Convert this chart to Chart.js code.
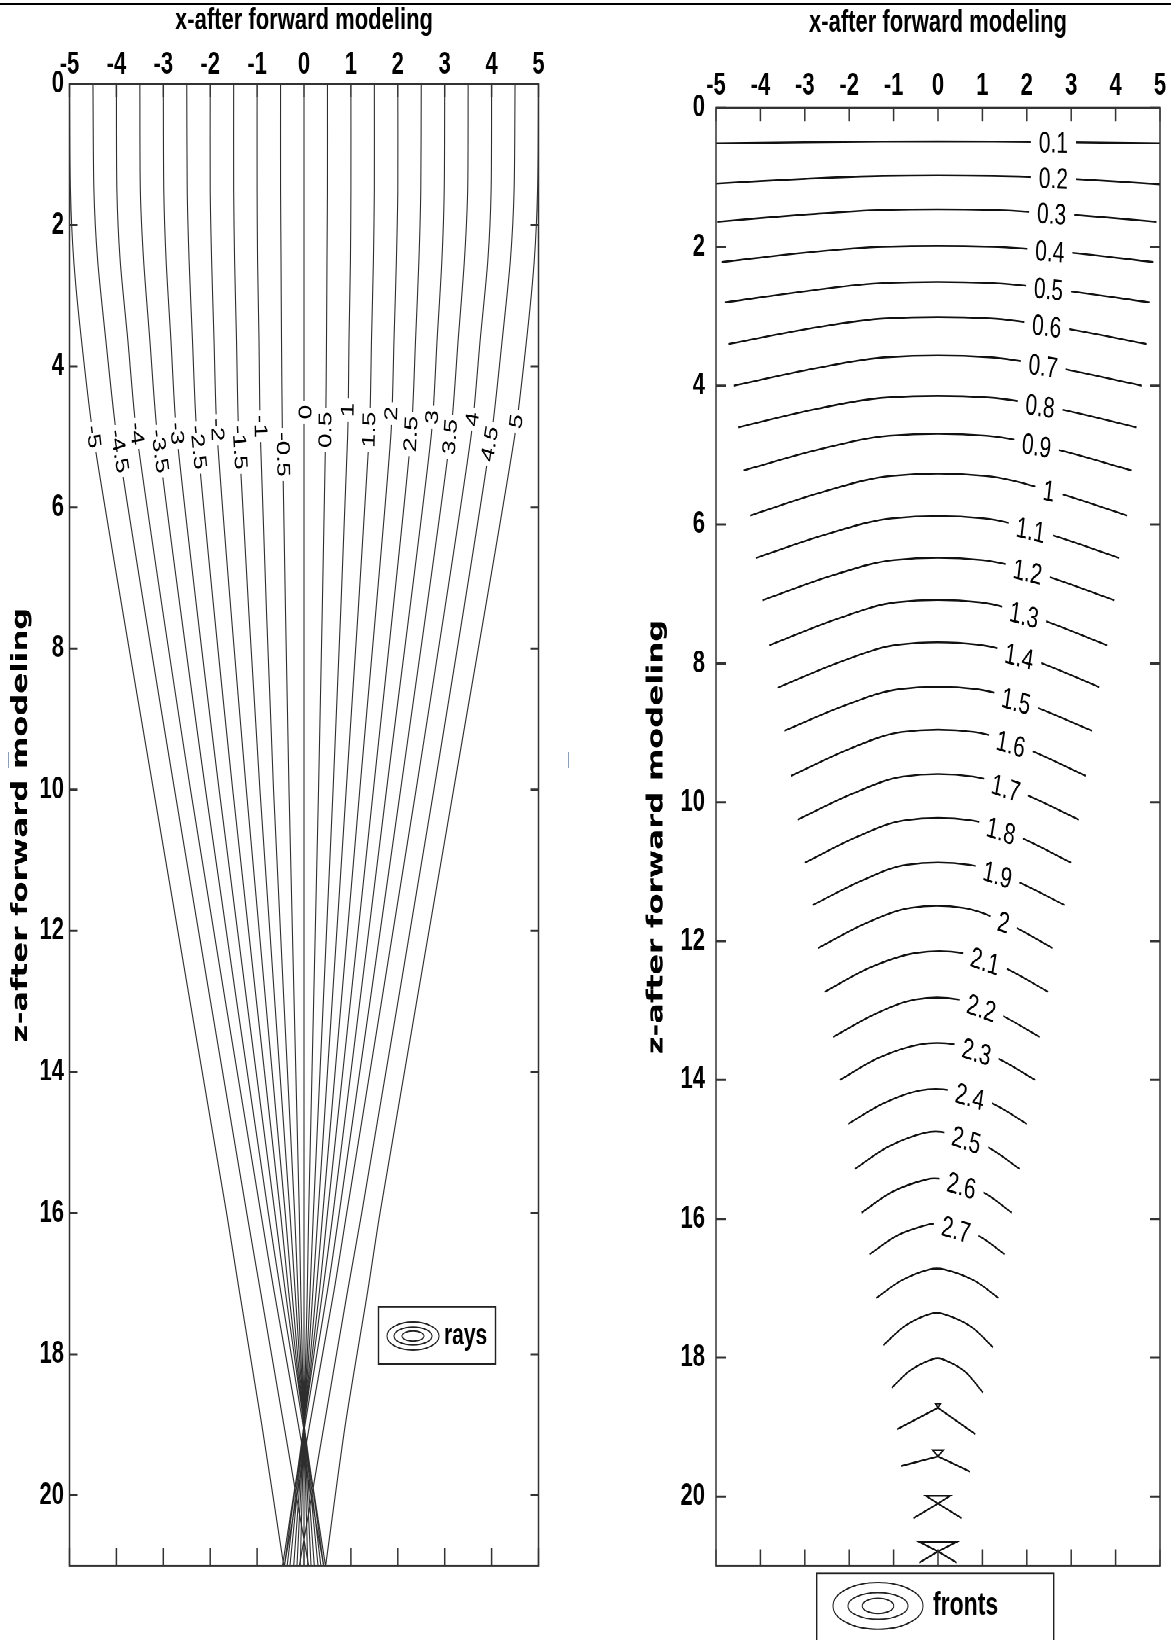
<!DOCTYPE html>
<html>
<head>
<meta charset="utf-8">
<script src="https://cdn.jsdelivr.net/npm/chart.js@4.4.1/dist/chart.umd.min.js"></script>
<style>
  html, body { margin: 0; padding: 0; background: #fff; }
  body { width: 1171px; height: 1640px; overflow: hidden; position: relative; }
  /* the original figure is a square plot stretched to 1640 px tall */
  #stretch { position: absolute; left: 0; top: 0; width: 1171px; height: 1171px;
             transform: scale(1, 1.40051); transform-origin: 0 0; }
  #wrapL { position: absolute; left: 0; top: 0; width: 590px; height: 1171px; }
  #wrapR { position: absolute; left: 590px; top: 0; width: 581px; height: 1171px; }
  #topRule { position: absolute; left: 0; top: 3px; width: 1171px; height: 2px; background: #000; }
  .speck { position: absolute; width: 1px; height: 16px; top: 752px; background: #8aa0b8; }
</style>
</head>
<body>
<div id="topRule"></div>
<div class="speck" style="left:8px"></div>
<div class="speck" style="left:568px"></div>
<div id="stretch">
  <div id="wrapL"><canvas id="raysChart" width="590" height="1171"></canvas></div>
  <div id="wrapR"><canvas id="frontsChart" width="581" height="1171"></canvas></div>
</div>
<script>
// ---- axes ----
var xTicks = [-5, -4, -3, -2, -1, 0, 1, 2, 3, 4, 5];
var zTicks = [0, 2, 4, 6, 8, 10, 12, 14, 16, 18, 20];

// ---- rays (left panel): x of each ray at a few depths ----
var rayStart = [-5, -4.5, -4, -3.5, -3, -2.5, -2, -1.5, -1, -0.5, 0, 0.5, 1, 1.5, 2, 2.5, 3, 3.5, 4, 4.5, 5];
var rayDepth = [0, 1.5, 2.5, 3.6, 5, 10, 16, 17.1, 19, 21];
var rayX_z0   = [-5, -4.5, -4, -3.5, -3, -2.5, -2, -1.5, -1, -0.5, 0, 0.5, 1, 1.5, 2, 2.5, 3, 3.5, 4, 4.5, 5];
var rayX_z1_5 = [-4.98, -4.48, -3.99, -3.49, -2.99, -2.49, -2, -1.5, -1, -0.5, 0, 0.5, 1, 1.5, 2, 2.49, 2.99, 3.49, 3.99, 4.48, 4.98];
var rayX_z2_5 = [-4.91, -4.4, -3.92, -3.42, -2.94, -2.45, -1.97, -1.48, -0.99, -0.49, 0, 0.49, 0.99, 1.48, 1.97, 2.45, 2.94, 3.42, 3.92, 4.4, 4.91];
var rayX_z3_6 = [-4.75, -4.23, -3.76, -3.29, -2.84, -2.38, -1.92, -1.44, -0.96, -0.48, 0, 0.48, 0.96, 1.44, 1.92, 2.38, 2.84, 3.29, 3.76, 4.23, 4.75];
var rayX_z5   = [-4.49, -3.99, -3.56, -3.12, -2.71, -2.28, -1.85, -1.39, -0.93, -0.46, 0, 0.46, 0.93, 1.39, 1.85, 2.28, 2.71, 3.12, 3.56, 3.99, 4.49];
var rayX_z10  = [-3.21, -2.76, -2.42, -2.1, -1.81, -1.52, -1.23, -0.94, -0.65, -0.32, 0, 0.31, 0.62, 0.9, 1.19, 1.48, 1.76, 2.06, 2.39, 2.77, 3.19];
var rayX_z16  = [-1.65, -1.22, -0.92, -0.76, -0.62, -0.5, -0.4, -0.3, -0.2, -0.1, 0, 0.1, 0.2, 0.3, 0.4, 0.5, 0.62, 0.75, 0.91, 1.23, 1.62];
var rayX_z17  = [-1.38, -0.93, -0.64, -0.5, -0.4, -0.33, -0.26, -0.19, -0.13, -0.07, 0, 0.07, 0.13, 0.19, 0.26, 0.33, 0.4, 0.5, 0.64, 0.93, 1.36];
var rayX_z19  = [-0.9, -0.43, -0.12, -0.02, 0, 0, 0, 0, 0, 0, 0, 0, 0, 0, 0, 0, 0, 0.02, 0.12, 0.43, 0.88];
var rayX_z21  = [-0.43, 0.1, 0.42, 0.46, 0.42, 0.36, 0.3, 0.22, 0.15, 0.08, 0, -0.08, -0.15, -0.22, -0.3, -0.36, -0.42, -0.46, -0.42, -0.1, 0.46];
var rayLabelZ = [5.0, 5.2, 4.95, 5.2, 4.95, 5.15, 4.9, 5.15, 4.85, 5.25, 4.65, 4.9, 4.62, 4.9, 4.67, 4.96, 4.72, 5.0, 4.75, 5.1, 4.78];
var rayLevels = [rayX_z0, rayX_z1_5, rayX_z2_5, rayX_z3_6, rayX_z5, rayX_z10, rayX_z16, rayX_z17, rayX_z19, rayX_z21];
var stubMark = [{ x: -0.35, y: 21.12 }];

// ---- wavefronts (right panel) ----
var frontT      = [0.1, 0.2, 0.3, 0.4, 0.5, 0.6, 0.7, 0.8, 0.9, 1, 1.1, 1.2, 1.3, 1.4, 1.5, 1.6, 1.7, 1.8, 1.9, 2, 2.1, 2.2, 2.3, 2.4, 2.5, 2.6, 2.7, 2.8, 2.9, 3];
var frontLeftX  = [-5, -5, -4.97, -4.87, -4.8, -4.72, -4.6, -4.5, -4.38, -4.23, -4.1, -3.95, -3.8, -3.61, -3.46, -3.31, -3.16, -3, -2.82, -2.7, -2.55, -2.36, -2.21, -2.02, -1.87, -1.72, -1.54, -1.39, -1.23, -1.04];
var frontLeftZ  = [0.51, 1.09, 1.64, 2.22, 2.8, 3.4, 4, 4.6, 5.22, 5.87, 6.48, 7.09, 7.74, 8.35, 8.97, 9.62, 10.25, 10.87, 11.48, 12.1, 12.73, 13.38, 14, 14.63, 15.28, 15.91, 16.51, 17.14, 17.82, 18.43];
var frontMidLX  = [-3, -3, -2.98, -2.92, -2.88, -2.83, -2.76, -2.7, -2.63, -2.54, -2.46, -2.37, -2.28, -2.17, -2.08, -1.99, -1.9, -1.8, -1.69, -1.62, -1.53, -1.42, -1.33, -1.21, -1.12, -1.03, -0.92, -0.83, -0.74, -0.62];
var frontMidLZ  = [0.495, 1.02, 1.535, 2.08, 2.63, 3.17, 3.75, 4.33, 4.91, 5.52, 6.13, 6.73, 7.36, 7.97, 8.6, 9.23, 9.87, 10.49, 11.12, 11.74, 12.38, 13.05, 13.68, 14.33, 14.96, 15.61, 16.24, 16.89, 17.54, 18.18];
var frontTopLX  = [-1.25, -1.25, -1.24, -1.22, -1.2, -1.18, -1.15, -1.13, -1.1, -1.06, -1.03, -0.99, -0.95, -0.9, -0.87, -0.83, -0.79, -0.75, -0.71, -0.62, -0.5, -0.5, -0.42, -0.4, -0.3, -0.25, -0.2, -0.2, -0.18, -0.12];
var frontTopRX  = [1.25, 1.25, 1.23, 1.21, 1.19, 1.18, 1.15, 1.12, 1.09, 1.07, 1.02, 0.99, 0.95, 0.91, 0.87, 0.83, 0.79, 0.75, 0.71, 0.57, 0.55, 0.46, 0.39, 0.3, 0.2, 0.1, 0.05, 0.15, 0.12, 0.1];
var frontTopZ   = [0.485, 0.98, 1.47, 2, 2.52, 3.03, 3.59, 4.17, 4.72, 5.3, 5.91, 6.51, 7.12, 7.73, 8.37, 8.99, 9.63, 10.26, 10.9, 11.52, 12.17, 12.84, 13.49, 14.15, 14.76, 15.43, 16.08, 16.73, 17.37, 18.02];
var frontMidRX  = [3, 3, 2.95, 2.91, 2.86, 2.82, 2.75, 2.68, 2.62, 2.56, 2.45, 2.38, 2.29, 2.18, 2.08, 2, 1.9, 1.8, 1.71, 1.55, 1.49, 1.37, 1.31, 1.2, 1.1, 1, 0.9, 0.82, 0.74, 0.61];
var frontMidRZ  = [0.495, 1.02, 1.535, 2.08, 2.63, 3.17, 3.75, 4.33, 4.91, 5.52, 6.13, 6.73, 7.36, 7.96, 8.6, 9.23, 9.87, 10.49, 11.12, 11.74, 12.38, 13.05, 13.68, 14.33, 14.96, 15.61, 16.24, 16.89, 17.55, 18.2];
var frontRightX = [5, 5, 4.92, 4.85, 4.77, 4.7, 4.59, 4.47, 4.36, 4.26, 4.08, 3.97, 3.81, 3.63, 3.47, 3.33, 3.17, 3, 2.85, 2.58, 2.48, 2.29, 2.19, 2, 1.84, 1.66, 1.5, 1.36, 1.24, 1.01];
var frontRightZ = [0.51, 1.1, 1.64, 2.22, 2.8, 3.4, 4, 4.6, 5.22, 5.87, 6.48, 7.09, 7.74, 8.34, 8.97, 9.62, 10.25, 10.87, 11.48, 12.1, 12.73, 13.38, 14, 14.63, 15.28, 15.91, 16.51, 17.14, 17.85, 18.5];
var frontLabelX = [2.6, 2.6, 2.56, 2.52, 2.49, 2.45, 2.37, 2.3, 2.22, 2.5, 2.09, 2.02, 1.94, 1.83, 1.76, 1.64, 1.53, 1.42, 1.34, 1.48, 1.06, 0.98, 0.87, 0.72, 0.64, 0.53, 0.41];

// late fronts that fold into a small swallowtail
var swT       = [3.1, 3.2, 3.3, 3.4];
var swLeftX   = [-0.92, -0.83, -0.55, -0.42];
var swLeftZ   = [19.03, 19.56, 20.31, 20.95];
var swRightX  = [0.84, 0.72, 0.53, 0.42];
var swRightZ  = [19.1, 19.64, 20.31, 20.95];
var swCrossZ  = [18.72, 19.42, 20.1, 20.79];
var swLoopW   = [0.06, 0.12, 0.27, 0.43];
var swLoopZ   = [18.66, 19.33, 19.99, 20.65];

// ---- shared helpers ----
var TICK_FONT = { family: '"Liberation Sans", Arial, sans-serif', weight: 'bold', size: 22 };

function boxTicks(len) {
  return {
    id: 'boxTicks',
    afterDatasetsDraw: function (chart) {
      var ctx = chart.ctx, a = chart.chartArea, sx = chart.scales.x, sy = chart.scales.y;
      ctx.save();
      ctx.strokeStyle = '#333';
      ctx.lineWidth = 1.5;
      ctx.beginPath();
      xTicks.forEach(function (v) {
        var px = sx.getPixelForValue(v);
        ctx.moveTo(px, a.top); ctx.lineTo(px, a.top + len.top);
        ctx.moveTo(px, a.bottom); ctx.lineTo(px, a.bottom - len.bottom);
      });
      zTicks.forEach(function (v) {
        var py = sy.getPixelForValue(v);
        ctx.moveTo(a.left, py); ctx.lineTo(a.left + len.side, py);
        ctx.moveTo(a.right, py); ctx.lineTo(a.right - len.side, py);
      });
      ctx.stroke();
      ctx.strokeRect(a.left, a.top, a.right - a.left, a.bottom - a.top);
      ctx.restore();
    }
  };
}

function contourLegend(cfg) {
  return {
    id: 'contourLegend',
    afterDraw: function (chart) {
      var ctx = chart.ctx;
      ctx.save();
      ctx.fillStyle = '#fff';
      ctx.fillRect(cfg.x, cfg.y, cfg.w, cfg.h);
      ctx.strokeStyle = '#222';
      ctx.lineWidth = 1.4;
      ctx.strokeRect(cfg.x, cfg.y, cfg.w, cfg.h);
      ctx.lineWidth = 1;
      cfg.rings.forEach(function (r) {
        ctx.beginPath();
        ctx.ellipse(cfg.cx, cfg.cy, r[0], r[1], 0, 0, Math.PI * 2);
        ctx.stroke();
      });
      ctx.fillStyle = '#000';
      ctx.font = 'bold ' + cfg.size + 'px "Liberation Sans", Arial, sans-serif';
      ctx.textAlign = 'left';
      ctx.textBaseline = 'middle';
      ctx.fillText(cfg.text, cfg.tx, cfg.cy);
      ctx.restore();
    }
  };
}

function axes(o) {
  return {
    x: {
      type: 'linear', position: 'top', min: -5, max: 5,
      afterBuildTicks: function (s) { s.ticks = xTicks.map(function (v) { return { value: v }; }); },
      afterFit: function (s) { s.height = o.top; },
      grid: { display: false, drawTicks: false }, border: { display: false },
      ticks: { font: TICK_FONT, color: '#000', padding: o.xPad, maxRotation: 0 },
      title: { display: true, text: 'x-after forward modeling', color: '#000',
               font: { family: '"Liberation Sans", Arial, sans-serif', weight: 'bold', size: 22 },
               padding: { top: o.titlePad, bottom: 0 } }
    },
    y: {
      type: 'linear', position: 'left', min: 0, max: 21, reverse: true,
      afterBuildTicks: function (s) { s.ticks = zTicks.map(function (v) { return { value: v }; }); },
      afterFit: function (s) { s.width = o.left; },
      grid: { display: false, drawTicks: false }, border: { display: false },
      ticks: { font: TICK_FONT, color: '#000', padding: o.yPad },
      title: { display: true, text: 'z-after forward modeling', color: '#000',
               font: { family: '"DejaVu Sans", Verdana, sans-serif', weight: 'bold', size: 22 },
               padding: { top: o.yTitlePad, bottom: 0 } }
    }
  };
}

// ---- left chart: rays ----
var rayLabels = {
  id: 'rayLabels',
  afterDatasetsDraw: function (chart) {
    var ctx = chart.ctx, sx = chart.scales.x, sy = chart.scales.y;
    ctx.save();
    ctx.font = '18.5px "Liberation Sans", Arial, sans-serif';
    ctx.textAlign = 'center';
    ctx.textBaseline = 'middle';
    rayStart.forEach(function (x0, i) {
      var pts = rayDepth.map(function (z, j) {
        return [sx.getPixelForValue(rayLevels[j][i]), sy.getPixelForValue(z)];
      });
      var ly = sy.getPixelForValue(rayLabelZ[i]);
      var k = 0;
      while (k < pts.length - 2 && pts[k + 1][1] < ly) k++;
      var p1 = pts[k], p2 = pts[k + 1];
      var t = (ly - p1[1]) / (p2[1] - p1[1]);
      var lx = p1[0] + t * (p2[0] - p1[0]);
      var ang = Math.atan2(p2[1] - p1[1], p2[0] - p1[0]);
      if (ang > Math.PI / 2 + 1e-6) ang -= Math.PI;
      var txt = String(x0);
      var w = ctx.measureText(txt).width;
      ctx.save();
      ctx.translate(lx, ly);
      ctx.rotate(ang);
      ctx.fillStyle = '#fff';
      ctx.fillRect(-w / 2 - 3, -7, w + 6, 14);
      ctx.fillStyle = '#000';
      ctx.fillText(txt, 0, 0.5);
      ctx.restore();
    });
    ctx.restore();
  }
};

var stubImg = document.createElement('canvas');
stubImg.width = 9; stubImg.height = 4;
stubImg.getContext('2d').fillRect(0, 0, 9, 4);

var rayDatasets = rayStart.map(function (x0, i) {
  return {
    label: 'ray ' + x0,
    data: rayDepth.map(function (z, j) { return { x: rayLevels[j][i], y: z }; }),
    borderColor: '#2e2e2e', borderWidth: 1.1, pointRadius: 0, tension: 0.25, fill: false
  };
});
rayDatasets.push({
  label: 'mark', data: stubMark, showLine: false, clip: false,
  pointStyle: stubImg, pointRadius: 5, backgroundColor: '#000', borderWidth: 0
});

new Chart(document.getElementById('raysChart'), {
  type: 'line',
  data: { datasets: rayDatasets },
  options: {
    responsive: false, animation: false, devicePixelRatio: 2,
    layout: { padding: { left: 0, top: 0, right: 51.5, bottom: 52.8 } },
    plugins: { legend: { display: false }, tooltip: { enabled: false } },
    scales: axes({ top: 60, left: 69.5, xPad: 0.5, titlePad: 1.8, yPad: 5.5, yTitlePad: 8 })
  },
  plugins: [rayLabels, boxTicks({ top: 9, bottom: 13, side: 8 }),
    contourLegend({ x: 378.5, y: 933.2, w: 117, h: 41, cx: 413, cy: 954,
                    rings: [[26, 10], [19, 6.4], [11, 3.6]], text: 'rays', tx: 444, size: 21 })]
});

// ---- right chart: fronts ----
function frontPoints(k) {
  return [
    { x: frontLeftX[k], y: frontLeftZ[k] },
    { x: frontMidLX[k], y: frontMidLZ[k] },
    { x: frontTopLX[k], y: frontTopZ[k] },
    { x: frontTopRX[k], y: frontTopZ[k] },
    { x: frontMidRX[k], y: frontMidRZ[k] },
    { x: frontRightX[k], y: frontRightZ[k] }
  ];
}

var frontLabels = {
  id: 'frontLabels',
  afterDatasetsDraw: function (chart) {
    var ctx = chart.ctx, sx = chart.scales.x, sy = chart.scales.y;
    ctx.save();
    ctx.font = '21px "Liberation Sans Narrow", "Liberation Sans", Arial, sans-serif';
    ctx.textAlign = 'center';
    ctx.textBaseline = 'middle';
    frontLabelX.forEach(function (lxv, k) {
      var pts = frontPoints(k);
      var j = 0;
      while (j < pts.length - 2 && pts[j + 1].x < lxv) j++;
      var a = pts[j], b = pts[j + 1];
      var t = (lxv - a.x) / (b.x - a.x);
      var lz = a.y + t * (b.y - a.y);
      var px = sx.getPixelForValue(lxv), py = sy.getPixelForValue(lz);
      var ang = Math.atan2(sy.getPixelForValue(b.y) - sy.getPixelForValue(a.y),
                           sx.getPixelForValue(b.x) - sx.getPixelForValue(a.x));
      var txt = String(frontT[k]);
      var w = ctx.measureText(txt).width;
      ctx.save();
      ctx.translate(px, py);
      ctx.rotate(ang);
      ctx.fillStyle = '#fff';
      ctx.fillRect(-w / 2 - 8, -8, w + 16, 16);
      ctx.fillStyle = '#000';
      ctx.fillText(txt, 0, 1.5);
      ctx.restore();
    });
    ctx.restore();
  }
};

var frontDatasets = frontT.map(function (t, k) {
  return {
    label: 't=' + t, data: frontPoints(k),
    borderColor: '#111', borderWidth: 1.3, pointRadius: 0,
    tension: 0.35, fill: false
  };
});
swT.forEach(function (t, k) {
  frontDatasets.push({
    label: 't=' + t,
    data: [
      { x: swLeftX[k], y: swLeftZ[k] },
      { x: 0, y: swCrossZ[k] },
      { x: swLoopW[k], y: swLoopZ[k] },
      { x: -swLoopW[k], y: swLoopZ[k] },
      { x: 0, y: swCrossZ[k] },
      { x: swRightX[k], y: swRightZ[k] }
    ],
    borderColor: '#111', borderWidth: 1.3, pointRadius: 0, tension: 0, fill: false
  });
});

new Chart(document.getElementById('frontsChart'), {
  type: 'line',
  data: { datasets: frontDatasets },
  options: {
    responsive: false, animation: false, devicePixelRatio: 2,
    layout: { padding: { left: 0, top: 0, right: 11, bottom: 52.8 } },
    plugins: { legend: { display: false }, tooltip: { enabled: false } },
    scales: axes({ top: 77.1, left: 126, xPad: 2.5, titlePad: 3.2, yPad: 11, yTitlePad: 53.4 })
  },
  plugins: [frontLabels, boxTicks({ top: 9.5, bottom: 12, side: 10 }),
    contourLegend({ x: 226.7, y: 1123.4, w: 237, h: 90, cx: 288, cy: 1146.7,
                    rings: [[45, 16.7], [30, 9.5], [15.8, 5.4]], text: 'fronts', tx: 343, size: 23 })]
});
</script>
</body>
</html>
